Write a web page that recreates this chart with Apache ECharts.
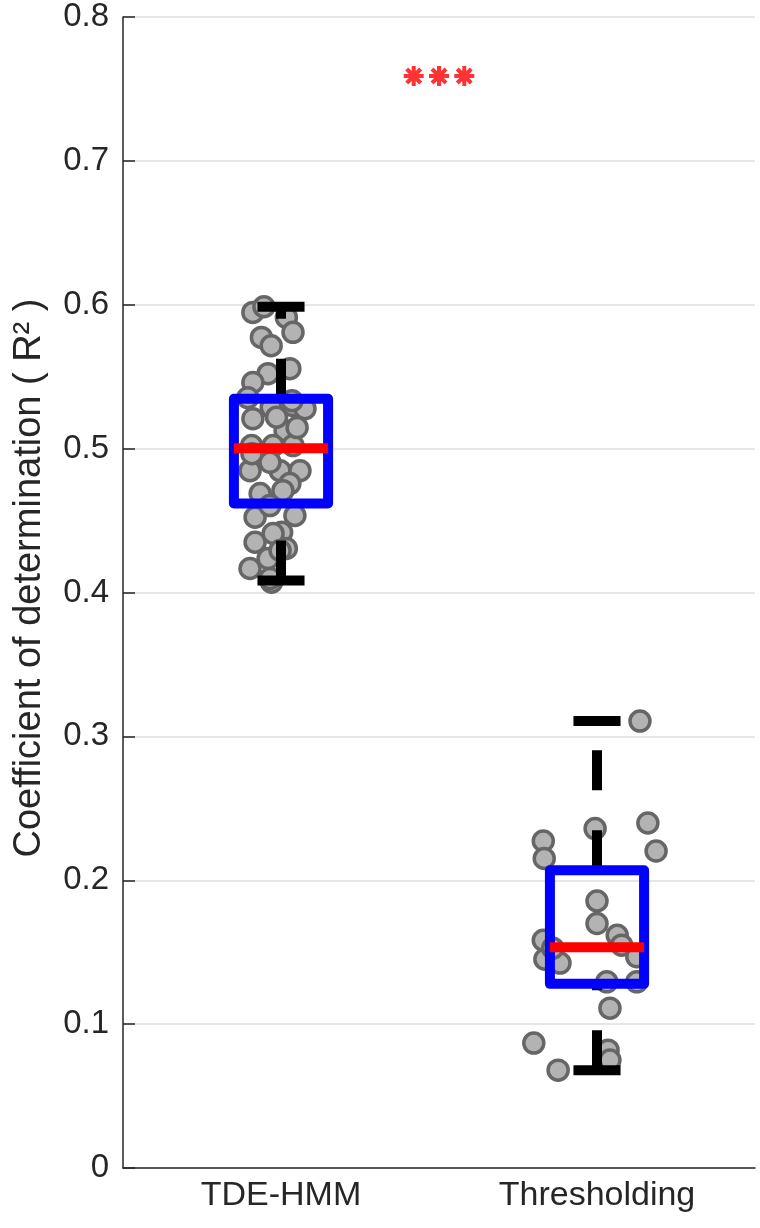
<!DOCTYPE html>
<html>
<head>
<meta charset="utf-8">
<script src="https://cdn.jsdelivr.net/npm/echarts@6/dist/echarts.min.js"></script>
<style>html,body{margin:0;padding:0;background:#fff}#chart{width:760px;height:1228px}</style>
</head>
<body>
<div id="chart"></div>
<script>
// ---- data ----
const categories = ['TDE-HMM', 'Thresholding'];
const categoryCenters = [0.5, 1.5];
const yAxisTitle = 'Coefficient of determination ( R² )';
// box stats: [lower whisker, q1, median, q3, upper whisker]
const tdeBox = [0.4083, 0.4618, 0.5003, 0.5347, 0.5986];
const thrBox = [0.068, 0.128, 0.1535, 0.2069, 0.3106];
// individual points (R^2 value) and horizontal jitter (fraction of axis unit)
const tdeValues = [0.5947, 0.5986, 0.5912, 0.5808, 0.5773, 0.5715, 0.5556, 0.5521, 0.5460,
  0.5354, 0.5287, 0.5299, 0.5208, 0.5125, 0.5278, 0.5218, 0.5021, 0.5021, 0.5021,
  0.4847, 0.4847, 0.4847, 0.4905, 0.4757, 0.4688, 0.4523, 0.4535, 0.4419, 0.4349,
  0.4236, 0.4167, 0.4072, 0.4306,
  0.4708, 0.4604, 0.5333, 0.4965, 0.5146, 0.4410, 0.4292, 0.4097];
const tdeJitter = [-0.089, -0.054, 0.017, 0.038, -0.062, -0.031, 0.028, -0.041, -0.089,
  -0.105, -0.031, 0.038, -0.089, 0.013, 0.076, -0.014, -0.093, -0.025, 0.038,
  -0.098, -0.003, 0.060, -0.035, 0.028, -0.066, -0.082, 0.044, 0.002, -0.082,
  -0.041, -0.098, -0.030, 0.017,
  0.006, -0.035, 0.035, -0.092, 0.051, -0.025, -0.003, -0.035];
const thrValues = [0.3106, 0.2398, 0.2203, 0.2359, 0.2273, 0.2151, 0.1856, 0.1699, 0.1618,
  0.1549, 0.1583, 0.1451, 0.1424, 0.1528, 0.1468, 0.1294, 0.1294, 0.1111, 0.0868,
  0.0680, 0.0819, 0.0750];
const thrJitter = [0.136, 0.161, 0.187, -0.006, -0.170, -0.167, 0.000, 0.000, 0.064,
  0.078, -0.170, -0.165, -0.117, -0.140, 0.126, 0.126, 0.031, 0.041, -0.200,
  -0.123, 0.035, 0.041];
const starY = 0.759;
const starX = [0.92, 1.0, 1.08];

// ---- build ----
const FONT = 'Liberation Sans';
const TXT = '#262626';
const ptsTde = tdeValues.map((v, i) => [categoryCenters[0] + tdeJitter[i], v]);
const ptsThr = thrValues.map((v, i) => [categoryCenters[1] + thrJitter[i], v]);
const boxData = [[categoryCenters[0]].concat(tdeBox), [categoryCenters[1]].concat(thrBox)];

const chart = echarts.init(document.getElementById('chart'), null, {renderer: 'canvas'});
const option = {
  animation: false,
  backgroundColor: '#fff',
  grid: {left: 123, right: 5, top: 17, bottom: 60, containLabel: false},
  graphic: [{
    type: 'text', x: 30, y: 578, rotation: Math.PI / 2,
    style: {text: yAxisTitle, fontFamily: FONT, fontSize: 38, fill: TXT,
      align: 'center', verticalAlign: 'middle'}
  }],
  xAxis: [{
    type: 'category', data: categories, boundaryGap: true,
    axisLine: {lineStyle: {color: TXT, width: 1.5}},
    axisTick: {inside: true, alignWithLabel: true, length: 12, lineStyle: {color: TXT, width: 1.5}},
    axisLabel: {fontFamily: FONT, fontSize: 34, color: TXT, margin: 11},
    splitLine: {show: false}
  }, {
    type: 'value', min: 0, max: 2, show: false
  }],
  yAxis: {
    type: 'value', min: 0, max: 0.8, interval: 0.1,
    axisLine: {show: true, lineStyle: {color: TXT, width: 1.5}},
    axisTick: {show: true, inside: true, length: 12, lineStyle: {color: TXT, width: 1.5}},
    axisLabel: {fontFamily: FONT, fontSize: 33, color: TXT, margin: 14,
      formatter: v => (Math.abs(v) < 1e-9 ? '0' : v.toFixed(1))},
    splitLine: {show: true, lineStyle: {color: '#dedede', width: 1.5}}
  },
  series: [{
    type: 'scatter', xAxisIndex: 1, data: ptsTde, symbolSize: 20, z: 2,
    itemStyle: {color: '#b3b3b3', borderColor: '#666666', borderWidth: 3.5, opacity: 1}
  }, {
    type: 'scatter', xAxisIndex: 1, data: ptsThr, symbolSize: 20, z: 2,
    itemStyle: {color: '#b3b3b3', borderColor: '#666666', borderWidth: 3.5, opacity: 1}
  }, {
    type: 'custom', xAxisIndex: 1, data: boxData, z: 5,
    renderItem: function (params, api) {
      const xc = api.value(0);
      const lo = api.coord([xc, api.value(1)]);
      const q1 = api.coord([xc, api.value(2)]);
      const md = api.coord([xc, api.value(3)]);
      const q3 = api.coord([xc, api.value(4)]);
      const hi = api.coord([xc, api.value(5)]);
      const hw = api.size([0.149, 0])[0];
      const cw = hw / 2;
      const x = lo[0];
      const lw = 10;
      return {type: 'group', children: [
        {type: 'line', shape: {x1: x, y1: q3[1], x2: x, y2: hi[1]},
          style: {stroke: '#000', lineWidth: lw, lineDash: [40, 40], lineCap: 'butt'}},
        {type: 'line', shape: {x1: x, y1: lo[1], x2: x, y2: q1[1]},
          style: {stroke: '#000', lineWidth: lw, lineDash: [40, 40], lineCap: 'butt'}},
        {type: 'line', shape: {x1: x - cw, y1: hi[1], x2: x + cw, y2: hi[1]},
          style: {stroke: '#000', lineWidth: lw, lineCap: 'butt'}},
        {type: 'line', shape: {x1: x - cw, y1: lo[1], x2: x + cw, y2: lo[1]},
          style: {stroke: '#000', lineWidth: lw, lineCap: 'butt'}},
        {type: 'polygon', shape: {points: [[x - hw, q1[1]], [x - hw, q3[1]], [x + hw, q3[1]], [x + hw, q1[1]]]},
          style: {fill: 'none', stroke: '#0000ff', lineWidth: lw, lineJoin: 'round'}},
        {type: 'line', shape: {x1: x - hw, y1: md[1], x2: x + hw, y2: md[1]},
          style: {stroke: '#ff0000', lineWidth: lw, lineCap: 'butt'}}
      ]};
    }
  }, {
    type: 'scatter', xAxisIndex: 1, z: 6,
    data: starX.map(x => [x, starY]),
    symbol: 'path://M0,10L20,10M10,0L10,20M3,3L17,17M17,3L3,17',
    symbolSize: 20,
    itemStyle: {color: 'none', borderColor: '#ff0000', borderWidth: 4}
  }]
};
chart.setOption(option);
</script>
</body>
</html>
